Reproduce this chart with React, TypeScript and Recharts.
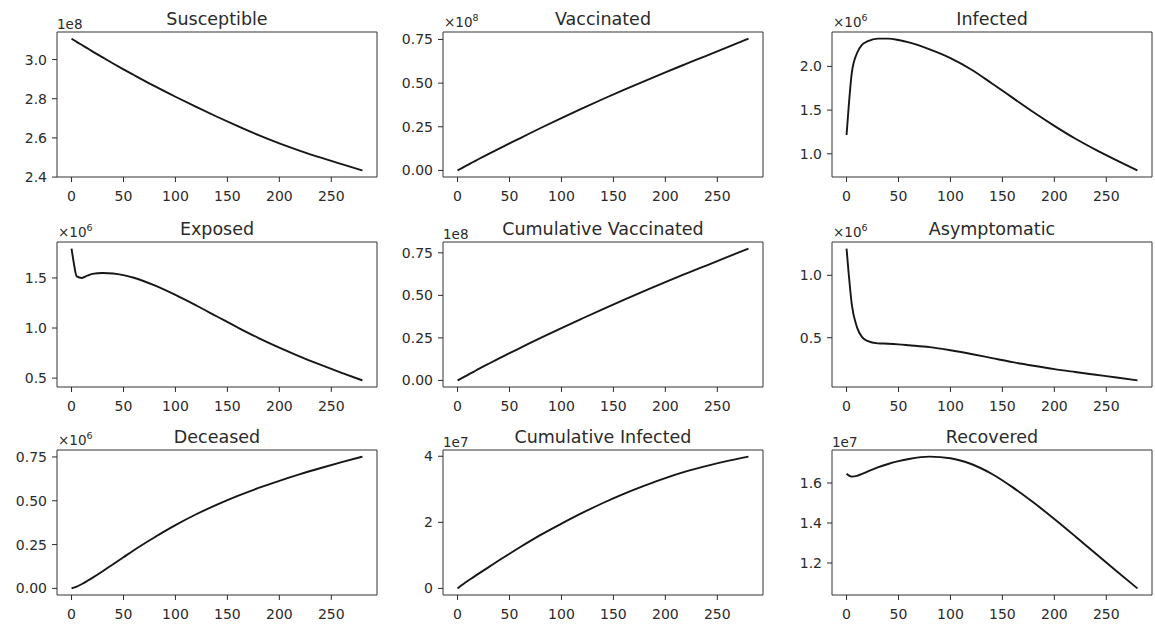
import { LineChart, Line, XAxis, YAxis, ReferenceArea } from "recharts";

// time axis (days) shared by every panel
const days = [0, 2, 5, 10, 15, 20, 30, 40, 50, 60, 80, 100, 120, 140, 160, 180, 200, 220, 240, 260, 280];
const dayTicks = [0, 50, 100, 150, 200, 250];

// values are in the panel's own unit (see offset labels)
const susceptible = [3.107, 3.1, 3.09, 3.074, 3.058, 3.042, 3.011, 2.98, 2.95, 2.921, 2.864, 2.81, 2.758, 2.708, 2.66, 2.614, 2.572, 2.534, 2.499, 2.466, 2.434];
const vaccinated = [0.0, 0.0065, 0.016, 0.032, 0.048, 0.064, 0.095, 0.125, 0.155, 0.184, 0.243, 0.3, 0.355, 0.409, 0.461, 0.512, 0.562, 0.61, 0.658, 0.706, 0.755];
const infected = [1.215, 1.53, 1.92, 2.15, 2.25, 2.285, 2.318, 2.318, 2.302, 2.274, 2.195, 2.095, 1.965, 1.805, 1.64, 1.475, 1.32, 1.175, 1.045, 0.925, 0.81];
const exposed = [1.793, 1.66, 1.515, 1.5, 1.522, 1.54, 1.55, 1.545, 1.528, 1.502, 1.425, 1.33, 1.225, 1.115, 1.005, 0.9, 0.805, 0.715, 0.632, 0.553, 0.477];
const cumVaccinated = [0.0, 0.006, 0.016, 0.033, 0.049, 0.066, 0.098, 0.129, 0.16, 0.19, 0.25, 0.308, 0.364, 0.419, 0.473, 0.526, 0.578, 0.628, 0.677, 0.726, 0.775];
const asymptomatic = [1.214, 1.02, 0.77, 0.585, 0.505, 0.475, 0.455, 0.452, 0.447, 0.44, 0.425, 0.4, 0.37, 0.337, 0.304, 0.275, 0.248, 0.225, 0.203, 0.181, 0.158];
const deceased = [0.0, 0.004, 0.01, 0.025, 0.042, 0.06, 0.098, 0.138, 0.178, 0.218, 0.292, 0.361, 0.423, 0.478, 0.528, 0.573, 0.614, 0.652, 0.687, 0.72, 0.752];
const cumInfected = [0.0, 0.05, 0.12, 0.23, 0.335, 0.44, 0.645, 0.85, 1.05, 1.245, 1.62, 1.96, 2.285, 2.585, 2.86, 3.11, 3.34, 3.54, 3.71, 3.86, 3.99];
const recovered = [1.647, 1.638, 1.632, 1.636, 1.646, 1.657, 1.678, 1.695, 1.709, 1.72, 1.732, 1.724, 1.695, 1.645, 1.578, 1.502, 1.42, 1.334, 1.246, 1.159, 1.073];

const panels = [
  { title: "Susceptible", values: susceptible, offset: "1e8", ticks: [2.4, 2.6, 2.8, 3.0], digits: 1 },
  { title: "Vaccinated", values: vaccinated, offset: "×10|8", ticks: [0, 0.25, 0.5, 0.75], digits: 2 },
  { title: "Infected", values: infected, offset: "×10|6", ticks: [1.0, 1.5, 2.0], digits: 1 },
  { title: "Exposed", values: exposed, offset: "×10|6", ticks: [0.5, 1.0, 1.5], digits: 1 },
  { title: "Cumulative Vaccinated", values: cumVaccinated, offset: "1e8", ticks: [0, 0.25, 0.5, 0.75], digits: 2 },
  { title: "Asymptomatic", values: asymptomatic, offset: "×10|6", ticks: [0.5, 1.0], digits: 1 },
  { title: "Deceased", values: deceased, offset: "×10|6", ticks: [0, 0.25, 0.5, 0.75], digits: 2 },
  { title: "Cumulative Infected", values: cumInfected, offset: "1e7", ticks: [0, 2, 4], digits: 0 },
  { title: "Recovered", values: recovered, offset: "1e7", ticks: [1.2, 1.4, 1.6], digits: 1 },
];

const colLeft = [57, 443, 832];
const rowTop = [32, 242, 450];
const boxW = 320;
const boxH = 145;
const padL = 60;
const padT = 36;
const padB = 34;
const padR = 6;
const font = "'DejaVu Sans', sans-serif";
const ink = "#2a2a2a";

function Offset({ text }: { text: string }) {
  const [base, sup] = text.split("|");
  return (
    <div
      style={{
        position: "absolute",
        left: padL + (sup ? 1 : 0),
        top: padT - (sup ? 17 : 15),
        fontSize: 13.5,
        color: ink,
        lineHeight: "14px",
        whiteSpace: "nowrap",
      }}
    >
      {base}
      {sup && <span style={{ fontSize: 9.5, position: "relative", top: -6 }}>{sup}</span>}
    </div>
  );
}

function Panel({ p, left, top }: { p: (typeof panels)[number]; left: number; top: number }) {
  const lo = Math.min(...p.values);
  const hi = Math.max(...p.values);
  const pad = (hi - lo) * 0.05;
  const yDomain = [lo - pad, hi + pad];
  const data = days.map((d, i) => ({ day: d, v: p.values[i] }));
  const tickStyle = { fill: ink, fontSize: 14, fontFamily: font };
  return (
    <div style={{ position: "absolute", left: left - padL, top: top - padT }}>
      <div
        style={{
          position: "absolute",
          left: padL,
          width: boxW,
          top: padT - 22,
          textAlign: "center",
          fontSize: 17.5,
          color: ink,
          lineHeight: "18px",
        }}
      >
        {p.title}
      </div>
      <Offset text={p.offset} />
      <LineChart
        width={padL + boxW + padR}
        height={padT + boxH + padB}
        data={data}
        margin={{ top: padT, right: padR, bottom: 0, left: 0 }}
      >
        <XAxis
          dataKey="day"
          type="number"
          domain={[-14, 294]}
          ticks={dayTicks}
          height={padB}
          axisLine={false}
          tickLine={{ stroke: ink }}
          tickSize={5}
          tickMargin={9}
          tick={tickStyle}
        />
        <YAxis
          type="number"
          domain={yDomain}
          allowDataOverflow
          ticks={p.ticks}
          width={padL}
          axisLine={false}
          tickLine={{ stroke: ink }}
          tickSize={5}
          tickMargin={5}
          tick={tickStyle}
          tickFormatter={(v: number) => v.toFixed(p.digits)}
        />
        <ReferenceArea x1={-14} x2={294} y1={yDomain[0]} y2={yDomain[1]} fill="none" stroke="#333" strokeWidth={1} />
        <Line type="monotone" dataKey="v" stroke="#161616" strokeWidth={1.9} dot={false} isAnimationActive={false} />
      </LineChart>
    </div>
  );
}

export default function App() {
  return (
    <div style={{ position: "absolute", left: 0, top: 0, width: 1155, height: 631, background: "#fff", fontFamily: font }}>
      {panels.map((p, i) => (
        <Panel key={p.title} p={p} left={colLeft[i % 3]} top={rowTop[Math.floor(i / 3)]} />
      ))}
    </div>
  );
}
